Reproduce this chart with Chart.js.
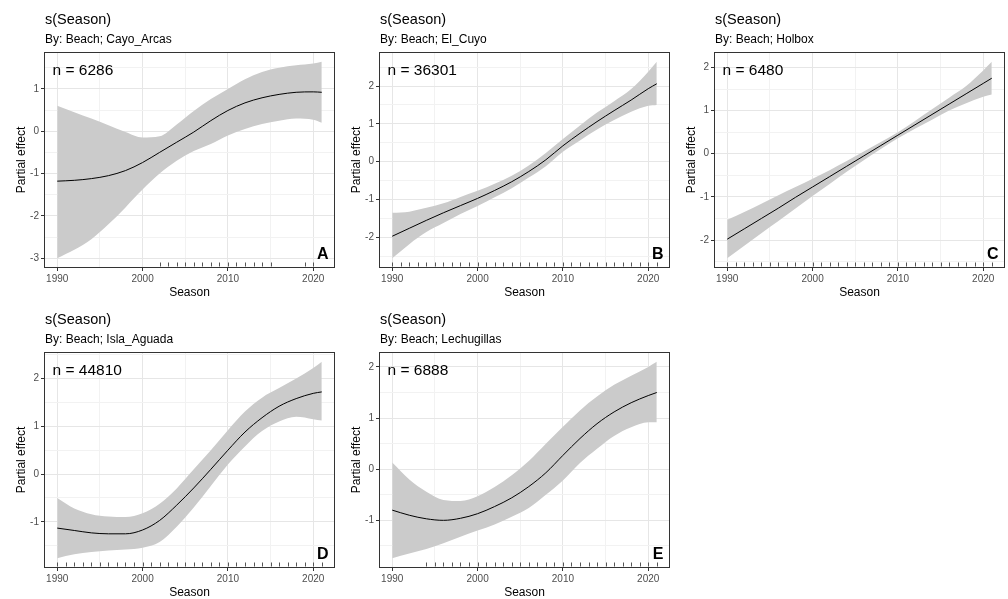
<!DOCTYPE html>
<html>
<head>
<meta charset="utf-8">
<script src="https://cdn.jsdelivr.net/npm/chart.js@4.4.1/dist/chart.umd.min.js"></script>
<style>
  html, body { margin:0; padding:0; background:#fff; overflow:hidden; }
  #wrap { position:relative; width:1008px; height:599px; }
  #wrap canvas { position:absolute; }
</style>
</head>
<body>
<div id="wrap">
  <canvas id="pA" width="336" height="300" style="left:0;top:0"></canvas>
  <canvas id="pB" width="336" height="300" style="left:335px;top:0"></canvas>
  <canvas id="pC" width="336" height="300" style="left:670px;top:0"></canvas>
  <canvas id="pD" width="336" height="300" style="left:0;top:300px"></canvas>
  <canvas id="pE" width="336" height="300" style="left:335px;top:300px"></canvas>
</div>
<script>
const seasons = [1990, 1992, 1994, 1996, 1998, 2000, 2002, 2004, 2006, 2008, 2010, 2012, 2014, 2016, 2018, 2020, 2021];

// Cayo_Arcas
const fitA   = [-1.18, -1.16, -1.12, -1.05, -0.93, -0.74, -0.50, -0.26, -0.02, 0.25, 0.49, 0.67, 0.79, 0.87, 0.92, 0.93, 0.92];
const upperA = [0.60, 0.45, 0.30, 0.14, -0.02, -0.15, -0.12, 0.16, 0.48, 0.76, 1.00, 1.23, 1.40, 1.50, 1.56, 1.60, 1.64];
const lowerA = [-3.00, -2.80, -2.55, -2.20, -1.80, -1.38, -1.00, -0.70, -0.47, -0.30, -0.10, 0.05, 0.17, 0.25, 0.30, 0.27, 0.20];

// El_Cuyo
const fitB   = [-1.97, -1.76, -1.55, -1.35, -1.16, -0.97, -0.76, -0.53, -0.26, 0.05, 0.42, 0.75, 1.06, 1.35, 1.63, 1.93, 2.06];
const upperB = [-1.35, -1.32, -1.22, -1.10, -0.93, -0.77, -0.58, -0.37, -0.10, 0.23, 0.60, 0.96, 1.30, 1.60, 1.92, 2.38, 2.64];
const lowerB = [-2.55, -2.18, -1.86, -1.62, -1.38, -1.17, -0.94, -0.70, -0.42, -0.12, 0.26, 0.56, 0.85, 1.10, 1.32, 1.48, 1.50];

// Holbox
const fitC   = [-1.98, -1.74, -1.50, -1.26, -1.01, -0.77, -0.53, -0.29, -0.05, 0.19, 0.43, 0.67, 0.91, 1.15, 1.39, 1.63, 1.75];
const upperC = [-1.53, -1.35, -1.16, -0.96, -0.77, -0.58, -0.38, -0.17, 0.05, 0.27, 0.50, 0.76, 1.03, 1.30, 1.57, 1.93, 2.13];
const lowerC = [-2.42, -2.13, -1.84, -1.56, -1.27, -0.98, -0.70, -0.42, -0.15, 0.11, 0.36, 0.58, 0.79, 1.00, 1.17, 1.32, 1.37];

// Isla_Aguada
const fitD   = [-1.13, -1.18, -1.23, -1.25, -1.25, -1.17, -0.97, -0.65, -0.29, 0.10, 0.50, 0.88, 1.18, 1.42, 1.58, 1.69, 1.72];
const upperD = [-0.50, -0.72, -0.84, -0.89, -0.90, -0.82, -0.62, -0.30, 0.10, 0.50, 0.92, 1.31, 1.60, 1.80, 2.00, 2.22, 2.35];
const lowerD = [-1.76, -1.68, -1.63, -1.60, -1.58, -1.54, -1.42, -1.10, -0.70, -0.25, 0.20, 0.58, 0.90, 1.10, 1.20, 1.15, 1.12];

// Lechugillas
const fitE   = [-0.80, -0.90, -0.97, -1.00, -0.96, -0.87, -0.73, -0.56, -0.34, -0.07, 0.27, 0.60, 0.89, 1.12, 1.30, 1.44, 1.50];
const upperE = [0.13, -0.20, -0.44, -0.60, -0.62, -0.53, -0.35, -0.12, 0.16, 0.50, 0.83, 1.15, 1.42, 1.65, 1.83, 2.00, 2.10];
const lowerE = [-1.74, -1.65, -1.56, -1.45, -1.32, -1.20, -1.08, -0.93, -0.76, -0.50, -0.22, 0.12, 0.40, 0.65, 0.82, 0.92, 0.92];

// rug marks (seasons with data)
const rugA = [2002, 2003, 2004, 2005, 2006, 2007, 2008, 2009, 2010, 2011, 2012, 2013, 2014, 2015, 2019, 2020];
const rugAll = [1990, 1991, 1992, 1993, 1994, 1995, 1996, 1997, 1998, 1999, 2000, 2001, 2002, 2003, 2004, 2005,
                2006, 2007, 2008, 2009, 2010, 2011, 2012, 2013, 2014, 2015, 2016, 2017, 2018, 2019, 2020, 2021];
const rugE = [1994, 1995, 1996, 1997, 1998, 1999, 2000, 2001, 2002, 2003, 2004, 2005, 2006, 2007, 2008, 2009,
              2010, 2011, 2012, 2013, 2014, 2015, 2016, 2017, 2018, 2019, 2020, 2021];

const xTicks = [1990, 1995, 2000, 2005, 2010, 2015, 2020];

const panels = [
  { id:'pA', beach:'Cayo_Arcas',  n:6286,  letter:'A', fit:fitA, upper:upperA, lower:lowerA, rug:rugA },
  { id:'pB', beach:'El_Cuyo',     n:36301, letter:'B', fit:fitB, upper:upperB, lower:lowerB, rug:rugAll },
  { id:'pC', beach:'Holbox',      n:6480,  letter:'C', fit:fitC, upper:upperC, lower:lowerC, rug:rugAll },
  { id:'pD', beach:'Isla_Aguada', n:44810, letter:'D', fit:fitD, upper:upperD, lower:lowerD, rug:rugAll },
  { id:'pE', beach:'Lechugillas', n:6888,  letter:'E', fit:fitE, upper:upperE, lower:lowerE, rug:rugE },
];

const FONT = "'Liberation Sans', Arial, sans-serif";
Chart.defaults.font.family = FONT;

// panel box, rug, titles and labels
const decor = {
  id: 'decor',
  afterDraw(chart, args, opts) {
    const { ctx, chartArea: a, scales } = chart;
    const p = opts.panel;
    ctx.save();
    // rug
    ctx.strokeStyle = '#555';
    ctx.lineWidth = 1;
    p.rug.forEach(yr => {
      const x = Math.round(scales.x.getPixelForValue(yr)) + 0.5;
      ctx.beginPath();
      ctx.moveTo(x, a.bottom - 1.5);
      ctx.lineTo(x, a.bottom - 5.5);
      ctx.stroke();
    });
    // panel border
    ctx.strokeStyle = '#333';
    ctx.strokeRect(a.left + 0.5, a.top + 0.5, a.right - a.left - 1, a.bottom - a.top - 1);
    // titles
    ctx.fillStyle = '#000';
    ctx.textBaseline = 'alphabetic';
    ctx.textAlign = 'left';
    ctx.font = `14.5px ${FONT}`;
    ctx.fillText('s(Season)', a.left + 1, 24);
    ctx.font = `12px ${FONT}`;
    ctx.fillText('By: Beach; ' + p.beach, a.left + 1, 42.5);
    // n label
    ctx.font = `15.5px ${FONT}`;
    ctx.fillText('n = ' + p.n, a.left + 8.5, a.top + 23);
    // panel letter
    ctx.font = `bold 16px ${FONT}`;
    ctx.textAlign = 'right';
    ctx.fillText(p.letter, a.right - 6.5, a.bottom - 8.7);
    ctx.restore();
  }
};

function makePanel(p) {
  const lo = Math.min(...p.lower), hi = Math.max(...p.upper);
  const yPad = (hi - lo) * 0.05;
  const yMin = lo - yPad, yMax = hi + yPad;
  const xr = seasons[seasons.length - 1] - seasons[0];
  const xMin = seasons[0] - xr * 0.05, xMax = seasons[seasons.length - 1] + xr * 0.05;
  const yTicks = [];
  for (let v = Math.ceil(yMin * 2) / 2; v <= yMax; v += 0.5) yTicks.push(v);

  const pts = arr => seasons.map((s, i) => ({ x: s, y: arr[i] }));
  const isMajorX = v => v % 10 === 0;
  const isMajorY = v => Number.isInteger(v);

  new Chart(document.getElementById(p.id), {
    type: 'line',
    data: {
      datasets: [
        { data: pts(p.lower), order: 2, borderWidth: 0, borderColor: 'rgba(0,0,0,0)', pointRadius: 0, fill: false, cubicInterpolationMode: 'monotone' },
        { data: pts(p.upper), order: 1, borderWidth: 0, borderColor: 'rgba(0,0,0,0)', pointRadius: 0, fill: '-1', backgroundColor: '#CBCBCB', cubicInterpolationMode: 'monotone' },
        { data: pts(p.fit), order: 0, borderColor: '#000', borderWidth: 1, pointRadius: 0, fill: false, cubicInterpolationMode: 'monotone' }
      ]
    },
    options: {
      responsive: false, animation: false, events: [],
      layout: { padding: { top: 52, right: 1, left: 0, bottom: 0 } },
      plugins: { legend: { display: false }, tooltip: { enabled: false }, decor: { panel: p } },
      scales: {
        x: {
          type: 'linear', min: xMin, max: xMax,
          afterBuildTicks: s => { s.ticks = xTicks.map(v => ({ value: v })); },
          afterFit: s => { s.height = 32; },
          border: { display: false },
          grid: {
            color: c => isMajorX(c.tick.value) ? '#E6E6E6' : '#F2F2F2',
            lineWidth: 1, tickLength: 3,
            tickColor: c => isMajorX(c.tick.value) ? '#333' : 'rgba(0,0,0,0)'
          },
          ticks: { autoSkip: false, maxRotation: 0, padding: 2, color: '#4D4D4D', font: { size: 10 },
                   callback: v => isMajorX(v) ? String(v) : '' },
          title: { display: true, text: 'Season', color: '#000', font: { size: 12 }, padding: 0 }
        },
        y: {
          type: 'linear', min: yMin, max: yMax,
          afterBuildTicks: s => { s.ticks = yTicks.map(v => ({ value: v })); },
          afterFit: s => { s.width = 44; },
          border: { display: false },
          grid: {
            color: c => isMajorY(c.tick.value) ? '#E6E6E6' : '#F2F2F2',
            lineWidth: 1, tickLength: 3,
            tickColor: c => isMajorY(c.tick.value) ? '#333' : 'rgba(0,0,0,0)'
          },
          ticks: { autoSkip: false, padding: 2, color: '#4D4D4D', font: { size: 10 },
                   callback: v => isMajorY(v) ? String(v) : '' },
          title: { display: true, text: 'Partial effect', color: '#000', font: { size: 12 }, padding: { top: 14, bottom: 0 } }
        }
      }
    },
    plugins: [decor]
  });
}

panels.forEach(makePanel);
</script>
</body>
</html>
